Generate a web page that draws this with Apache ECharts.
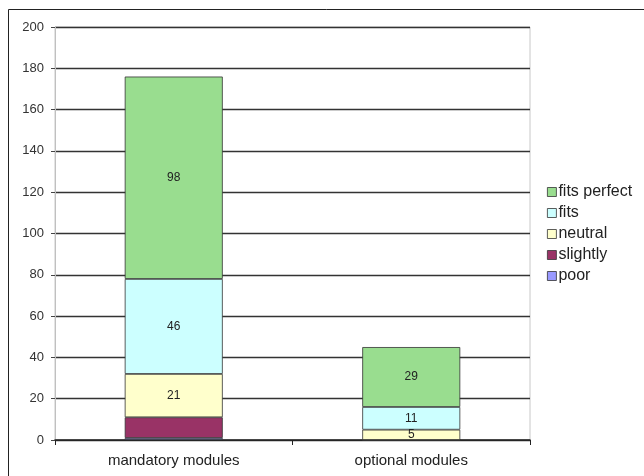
<!DOCTYPE html>
<html>
<head>
<meta charset="utf-8">
<script src="https://cdn.jsdelivr.net/npm/echarts@6/dist/echarts.min.js"></script>
<style>
  html, body { margin: 0; padding: 0; background: #fff; }
  #chart { width: 644px; height: 476px; }
</style>
</head>
<body>
<div id="chart"></div>
<script>
// Module ratings, stacked from "poor" at the bottom to "fits perfect" on top
const categories = ['mandatory modules', 'optional modules'];
const poor = [1, 0];
const slightly = [10, 0];
const neutral = [21, 5];
const fits = [46, 11];
const fitsPerfect = [98, 29];
const yTicks = { min: 0, max: 200, interval: 20 };

// Segments that carry a printed value
const showValue = {
  poor: false,
  slightly: false,
  neutral: true,
  fits: true,
  'fits perfect': true
};

const colors = {
  poor: '#9999ff',
  slightly: '#993366',
  neutral: '#ffffcc',
  fits: '#ccffff',
  'fits perfect': '#99dd8f'
};

const seriesDefs = [
  ['poor', poor],
  ['slightly', slightly],
  ['neutral', neutral],
  ['fits', fits],
  ['fits perfect', fitsPerfect]
];

const series = seriesDefs.map(([name, values]) => ({
  name: name,
  type: 'bar',
  stack: 'total',
  barWidth: 98,
  data: values,
  itemStyle: { color: colors[name], borderColor: '#333', borderWidth: 0.8 },
  label: {
    show: showValue[name],
    position: 'inside',
    color: '#222',
    fontFamily: 'Liberation Sans, Arial, sans-serif',
    fontSize: 12,
    formatter: p => (p.value > 0 ? String(p.value) : '')
  },
  emphasis: { disabled: true }
}));

const chart = echarts.init(document.getElementById('chart'), null, { renderer: 'canvas' });
chart.setOption({
  animation: false,
  backgroundColor: '#fff',
  textStyle: { fontFamily: 'Liberation Sans, Arial, sans-serif' },
  grid: { left: 55, right: 114, top: 27, bottom: 36, show: true, borderColor: '#c8c8c8', borderWidth: 1 },
  legend: {
    orient: 'vertical',
    left: 542,
    top: 179,
    itemWidth: 9,
    itemHeight: 9,
    itemGap: 5,
    icon: 'rect',
    data: ['fits perfect', 'fits', 'neutral', 'slightly', 'poor'],
    itemStyle: { borderColor: '#333', borderWidth: 0.8 },
    textStyle: { fontSize: 16, lineHeight: 16, color: '#222', padding: [0, 0, 0, -3] },
    selectedMode: false
  },
  xAxis: {
    type: 'category',
    data: categories,
    boundaryGap: true,
    axisLine: { lineStyle: { color: '#222', width: 1.5 } },
    axisTick: { show: true, length: 5, alignWithLabel: false, lineStyle: { color: '#222' } },
    axisLabel: { color: '#222', fontSize: 15, margin: 13 }
  },
  yAxis: {
    type: 'value',
    min: yTicks.min,
    max: yTicks.max,
    interval: yTicks.interval,
    axisLine: { show: true, lineStyle: { color: '#c0c0c0', width: 1 } },
    axisTick: { show: true, length: 4, lineStyle: { color: '#444' } },
    axisLabel: { color: '#333', fontSize: 13, margin: 11 },
    splitLine: { show: true, lineStyle: { color: '#333', width: 1.3 } }
  },
  graphic: [
    { type: 'line', shape: { x1: 8.5, y1: 9.5, x2: 644, y2: 9.5 }, style: { stroke: '#222', lineWidth: 1 }, silent: true },
    { type: 'line', shape: { x1: 8.5, y1: 9.5, x2: 8.5, y2: 476 }, style: { stroke: '#222', lineWidth: 1 }, silent: true }
  ],
  series: series
});
</script>
</body>
</html>
